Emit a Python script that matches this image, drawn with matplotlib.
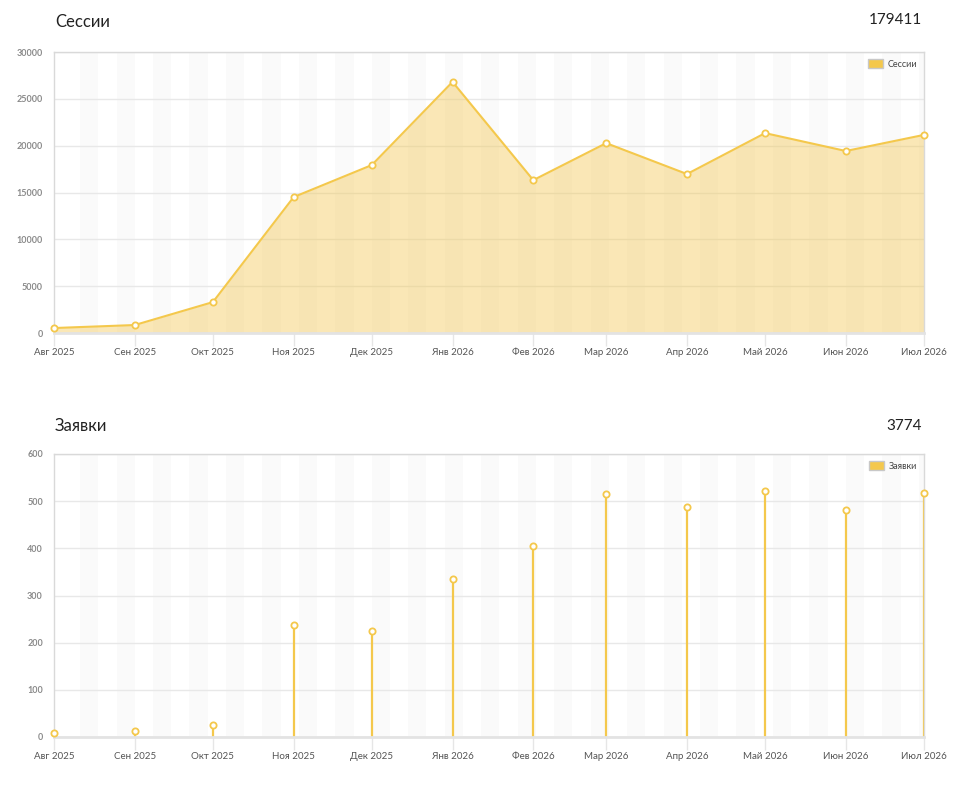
import matplotlib
matplotlib.use("Agg")
import matplotlib.pyplot as plt
from matplotlib.patches import Patch
import datetime as dt

plt.rcParams['font.family'] = ['Lato', 'DejaVu Sans']

months = ["2025-08-01", "2025-09-01", "2025-10-01", "2025-11-01", "2025-12-01", "2026-01-01",
          "2026-02-01", "2026-03-01", "2026-04-01", "2026-05-01", "2026-06-01", "2026-07-01"]
month_labels = ["Авг 2025", "Сен 2025", "Окт 2025", "Ноя 2025", "Дек 2025", "Янв 2026",
                "Фев 2026", "Мар 2026", "Апр 2026", "Май 2026", "Июн 2026", "Июл 2026"]
sessions = [530, 850, 3300, 14510, 17930, 26810, 16320, 20270, 16970, 21340, 19430, 21151]
leads = [9, 13, 26, 237, 225, 336, 404, 516, 488, 521, 482, 517]

sessions_title = "Сессии"
leads_title = "Заявки"

dates = [dt.datetime.strptime(m, "%Y-%m-%d") for m in months]

LINE = "#f4c84c"
FILL = "#f3c54a"
GRID = "#e8e8e8"
BAND = "#fafafa"

fig = plt.figure(figsize=(9.77, 7.88), dpi=100)

def style_axes(ax, ymax, ystep):
    x0, x1 = dates[0], dates[-1]
    ax.set_xlim(x0, x1)
    ax.set_ylim(0, ymax)
    # weekly alternating bands (weeks starting Monday)
    d = x0 + dt.timedelta(days=(7 - x0.weekday()) % 7)
    i = 0
    while d < x1:
        if i % 2 == 1:
            ax.axvspan(d, min(d + dt.timedelta(days=7), x1), color=BAND, lw=0, zorder=0)
        d += dt.timedelta(days=7)
        i += 1
    ax.set_yticks(range(0, ymax + 1, ystep))
    ax.yaxis.grid(True, color=GRID, lw=1, zorder=1)
    ax.set_axisbelow(True)
    ax.set_xticks(dates)
    ax.set_xticklabels(month_labels)
    ax.tick_params(axis='x', length=9, width=1, color="#e6e6e6", labelsize=7,
                   labelcolor="#555555", pad=2)
    ax.tick_params(axis='y', length=0, labelsize=6.5, labelcolor="#8a8a8a", pad=8)
    for lab in ax.get_yticklabels():
        lab.set_fontweight('bold')
    for s in ['top', 'right', 'left']:
        ax.spines[s].set_color("#d9d9d9")
        ax.spines[s].set_linewidth(1)
    ax.spines['bottom'].set_color("#e3e3e3")
    ax.spines['bottom'].set_linewidth(2)

def add_legend(ax, label):
    leg = ax.legend(handles=[Patch(facecolor="#f4c84c", edgecolor="#c8c8c8", lw=1, label=label)],
                    loc='upper right', fontsize=6.5, frameon=False, handlelength=1.6,
                    handleheight=1.2, handletextpad=0.5, borderaxespad=0.4)
    for t in leg.get_texts():
        t.set_color("#444444")

# Top chart
ax1 = fig.add_axes([54/977, 1-333/788, 870/977, 281/788])
style_axes(ax1, 30000, 5000)
ax1.fill_between(dates, sessions, 0, color=FILL, alpha=0.4, lw=0, zorder=2)
ax1.plot(dates, sessions, color=LINE, lw=1.5, zorder=3, clip_on=False,
         marker='o', ms=4.5, mfc='white', mec=LINE, mew=1.3)
add_legend(ax1, sessions_title)
fig.text(55/977, 1-22/788, sessions_title, fontsize=12, color="#222222",
         va='center', ha='left')
fig.text(922/977, 1-20/788, str(sum(sessions)), fontsize=11, color="#222222",
         va='center', ha='right')

# Bottom chart
ax2 = fig.add_axes([54/977, 1-737/788, 870/977, 283/788])
style_axes(ax2, 600, 100)
ax2.vlines(dates, 0, leads, color=LINE, lw=1.6, zorder=2)
ax2.plot(dates, leads, ls='none', marker='o', ms=4.5, mfc='white', mec=LINE, mew=1.3,
         zorder=3, clip_on=False)
add_legend(ax2, leads_title)
fig.text(55/977, 1-426/788, leads_title, fontsize=12, color="#222222",
         va='center', ha='left')
fig.text(922/977, 1-426/788, str(sum(leads)), fontsize=11, color="#222222",
         va='center', ha='right')

fig.savefig("out.png", dpi=100, facecolor="white")
